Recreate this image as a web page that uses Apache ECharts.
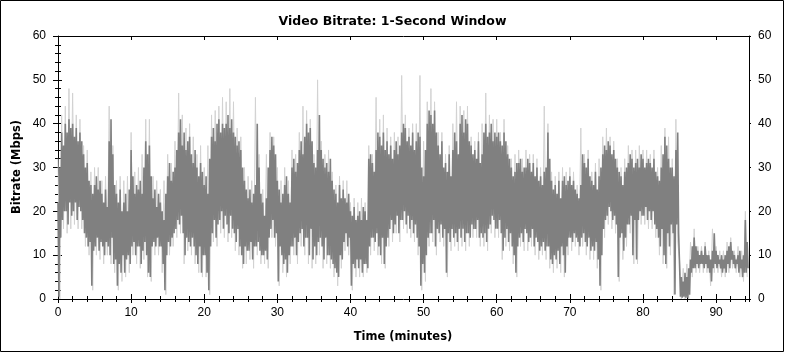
<!DOCTYPE html>
<html>
<head>
<meta charset="utf-8">
<script src="https://cdn.jsdelivr.net/npm/echarts@6/dist/echarts.min.js"></script>
<style>
html,body{margin:0;padding:0;background:#fff;}
#chart{width:785px;height:353px;}
</style>
</head>
<body>
<div id="chart"></div>
<script>
// Minutes covered by one envelope bin of each series
const darkBin = 0.25;
const lightBin = 0.5;

// Dark series: per-bin high / low (Mbps), 4 bins per minute
const darkHi = [
22,30,38,35, 40,38,41,39, 40,37,39,36, 38,36,33,30, 31,27,26,24,
26,28,25,27, 24,22,25,21, 36,41,33,26, 24,22,25,20, 22,24,20,25,
34,28,24,26, 25,27,24,30, 36,33,35,28, 23,25,21,24, 22,20,18,24,
28,31,27,29, 30,34,38,41, 35,38,34,36, 37,33,31,34, 30,28,31,29,
26,28,24,32, 37,39,36,40, 41,38,40,39, 40,42,39,41, 38,37,35,36,
34,30,27,25, 23,25,22,24, 26,40,30,24, 22,19,23,30, 34,37,35,33,
27,25,22,24, 26,28,24,22, 30,32,29,31, 34,36,33,37, 40,38,39,36,
31,30,34,42, 34,32,30,31, 29,32,27,25, 24,22,26,23, 25,23,22,24,
20,19,21,18, 19,20,18,21, 20,18,32,33, 31,29,34,38, 37,35,38,34,
36,33,35,32, 34,36,33,35, 38,40,39,36, 37,35,38,34, 36,38,37,30,
28,34,40,43, 42,40,43,38, 35,33,36,30, 31,29,33,28, 34,38,36,33,
40,42,38,41, 40,36,35,33, 34,32,36,31, 33,38,40,37, 38,40,36,38,
37,38,36,35, 38,36,33,32, 30,28,29,31, 31,32,29,30, 30,32,31,29,
31,28,30,27, 28,26,29,30, 38,32,27,25, 26,24,27,23, 27,28,26,27,
28,26,27,25, 24,23,26,33, 31,30,32,28, 27,26,29,25, 28,30,33,35,
34,36,35,33, 34,32,30,29, 28,26,29,30, 31,33,32,30, 31,32,30,33,
32,30,31,32, 31,30,32,29, 28,27,30,33, 37,35,32,30, 30,28,34,38,
8,5,4,6, 5,7,9,12, 14,12,11,10, 11,10,12,10, 10,9,11,15,
11,10,9,10, 9,10,11,12, 13,11,10,9, 10,11,9,10, 18,13
];
const darkLo = [
0.5,14,18,20, 20,17,22,19, 20,22,18,21, 20,18,15,14, 12,13,3,11,
12,14,11,13, 12,10,13,12, 10,14,8,9, 3,8,6,10, 6,9,10,8,
12,13,10,12, 12,8,11,13, 10,6,5,12, 13,12,14,12, 12,8,2,10,
13,12,14,15, 16,18,17,19, 15,10,14,13, 12,14,12,10, 8,12,6,10,
10,6,2,12, 15,18,14,17, 18,20,16,19, 17,15,19,16, 15,13,16,12,
10,8,12,11, 11,13,9,12, 12,13,11,10, 10,11,9,14, 16,18,14,15,
4,12,10,8, 9,6,10,12, 12,14,10,13, 15,16,12,14, 14,10,16,9,
12,10,13,14, 12,9,14,10, 10,9,8,7, 6,5,10,9, 13,15,12,14,
3,8,7,9, 7,9,6,8, 8,7,12,14, 14,13,15,12, 10,14,8,12,
14,16,18,15, 17,19,15,18, 18,20,17,19, 16,18,15,17, 14,12,3,8,
6,10,14,15, 15,18,12,16, 15,17,14,16, 6,15,13,16, 14,15,13,16,
14,16,13,15, 15,14,17,16, 16,18,14,15, 14,15,13,16, 17,19,18,16,
16,18,15,11, 14,16,13,15, 12,10,6,12, 14,15,13,16, 15,13,14,16,
12,14,13,11, 12,13,11,12, 12,9,8,10, 9,11,8,12, 10,6,12,14,
14,13,15,14, 13,12,14,15, 13,12,14,11, 12,11,13,9, 3,10,16,18,
19,21,20,18, 19,17,5,14, 15,11,14,17, 17,19,10,18, 9,18,20,19,
19,21,18,20, 18,20,17,16, 14,12,16,10, 8,15,12,17, 15,1,17,15,
0.5,0.3,0.5,0.3, 0.3,1,6,7, 7,8,7,8, 8,7,8,7, 6,4,7,8,
7,8,7,6, 7,6,8,7, 9,8,7,8, 6,7,5,6, 6,7
];

// Light (peak) series: per-bin high / low, 2 bins per minute
const lightHi = [
32,42, 44,48, 47,42, 41,35, 34,29, 30,30, 27,28, 44,35, 27,28, 27,28,
38,29, 30,33, 41,41, 28,27, 25,27, 33,31, 36,47, 42,39, 40,37, 33,35,
30,35, 42,43, 44,46, 45,48, 45,39, 37,30, 28,27, 46,33, 25,33, 38,37,
30,27, 30,27, 34,33, 38,44, 43,41, 33,50, 36,33, 34,29, 26,28, 27,27,
22,23, 22,23, 22,35, 33,46, 41,42, 39,37, 38,37, 51,42, 39,40, 40,51,
36,45, 48,45, 38,38, 33,35, 40,45, 44,43, 44,37, 36,38, 40,47, 42,41,
41,38, 41,35, 32,33, 34,32, 34,33, 33,32, 30,44, 40,29, 28,29, 30,29,
30,29, 26,39, 33,34, 29,31, 32,37, 39,37, 36,32, 30,32, 35,34, 34,35,
34,34, 33,34, 30,35, 39,37, 32,41, 9,7, 8,13, 16,12, 12,13, 11,16,
12,11, 11,13, 14,11, 12,11, 20
];
const lightLo = [
0,16, 15,16, 17,16, 16,12, 10,2, 10,9, 8,10, 8,6, 2,4, 5,6,
10,8, 7,9, 5,4, 10,10, 6,1, 10,12, 14,15, 8,11, 10,8, 6,5,
5,1, 13,12, 15,14, 13,14, 11,10, 7,8, 9,7, 10,8, 8,7, 14,12,
3,6, 5,8, 10,8, 12,10, 8,7, 8,10, 7,8, 7,5, 3,7, 11,10,
2,5, 5,5, 6,10, 11,10, 8,7, 12,13, 15,13, 16,15, 14,13, 10,2,
4,12, 13,10, 13,12, 5,11, 12,11, 12,11, 12,14, 14,12, 12,11, 15,14,
14,9, 12,11, 8,5, 12,11, 11,12, 10,9, 10,9, 7,6, 7,6, 5,10,
11,12, 10,12, 10,9, 9,7, 2,14, 17,16, 15,4, 9,12, 15,8, 8,17,
17,16, 16,14, 10,8, 7,10, 1,13, 0,0, 0,5, 6,6, 6,6, 3,6,
6,5, 5,6, 7,6, 5,4, 5
];

// Axis settings
const xMin = 0, xMax = 94.5, xMajor = 10, xMinor = 2;
const yMin = 0, yMax = 60, yMajor = 10, yMinor = 2;

function zigzag(hi, lo, bin) {
  const out = [];
  for (let i = 0; i < hi.length; i++) {
    out.push([i * bin, hi[i]]);
    out.push([i * bin + bin / 2, lo[i]]);
  }
  return out;
}
const darkData = zigzag(darkHi, darkLo, darkBin);
const lightData = zigzag(lightHi, lightLo, lightBin);

const labelFont = {fontFamily: 'Liberation Sans', fontSize: 12, color: '#000'};
const black = {color: '#000', width: 1};

function xAx(o) {
  return Object.assign({
    type: 'value', min: xMin, max: xMax, interval: xMajor, gridIndex: 0,
    splitLine: {show: false},
    axisLine: {show: false},
    axisLabel: {show: false},
    axisTick: {show: false}
  }, o);
}
function yAx(o) {
  return Object.assign({
    type: 'value', min: yMin, max: yMax, interval: yMajor, gridIndex: 0,
    splitLine: {show: false},
    axisLine: {show: false},
    axisLabel: {show: false},
    axisTick: {show: false}
  }, o);
}
function tick(inside, length) {
  return {show: true, inside: inside, length: length, lineStyle: black};
}

const chart = echarts.init(document.getElementById('chart'), null, {renderer: 'canvas'});
chart.setOption({
  animation: false,
  backgroundColor: '#ffffff',
  title: {
    text: 'Video Bitrate: 1-Second Window',
    left: 'center', top: 10,
    textStyle: {fontFamily: 'DejaVu Sans', fontWeight: 'bold', fontSize: 12.5, color: '#000'}
  },
  grid: {left: 58, right: 36, top: 36, bottom: 54, containLabel: false, outerBoundsMode: 'none'},
  xAxis: [
    xAx({position: 'bottom', axisLine: {show: true, onZero: false, lineStyle: black},
         axisTick: tick(false, 4),
         axisLabel: Object.assign({show: true, margin: 8, showMaxLabel: false}, labelFont)}),
    xAx({position: 'bottom', axisTick: tick(true, 5)}),
    xAx({position: 'bottom', interval: xMinor, axisTick: tick(true, 3)}),
    xAx({position: 'top', axisLine: {show: true, onZero: false, lineStyle: black}, axisTick: tick(true, 4)}),
    xAx({position: 'top', interval: xMinor, axisTick: tick(true, 3)})
  ],
  yAxis: [
    yAx({position: 'left', axisLine: {show: true, onZero: false, lineStyle: black},
         axisTick: tick(false, 5),
         axisLabel: Object.assign({show: true, margin: 12}, labelFont)}),
    yAx({position: 'left', axisTick: tick(true, 4)}),
    yAx({position: 'left', interval: yMinor, axisTick: tick(true, 3)}),
    yAx({position: 'right', axisLine: {show: true, onZero: false, lineStyle: black},
         axisTick: tick(false, 2),
         axisLabel: Object.assign({show: true, margin: 9}, labelFont)}),
    yAx({position: 'right', axisTick: tick(true, 5)}),
    yAx({position: 'right', interval: yMinor, axisTick: tick(true, 3)})
  ],
  series: [
    {type: 'line', name: 'peak', data: lightData, xAxisIndex: 0, yAxisIndex: 0,
     symbol: 'none', silent: true, z: 1, lineStyle: {color: '#d2d2d2', width: 1}},
    {type: 'line', name: 'bitrate', data: darkData, xAxisIndex: 0, yAxisIndex: 0,
     symbol: 'none', silent: true, z: 2, lineStyle: {color: '#808080', width: 1.6}}
  ],
  graphic: [
    {type: 'rect', shape: {x: 0.5, y: 0.5, width: 783, height: 351},
     style: {fill: 'none', stroke: '#000', lineWidth: 1}, silent: true},
    {type: 'text', x: 17, y: 167, rotation: Math.PI / 2,
     style: {text: 'Bitrate (Mbps)', font: 'bold 11.5px "DejaVu Sans"', fill: '#000', align: 'center', verticalAlign: 'middle'}},
    {type: 'text', x: 403, y: 337,
     style: {text: 'Time (minutes)', font: 'bold 11.5px "DejaVu Sans"', fill: '#000', align: 'center', verticalAlign: 'middle'}}
  ]
});
</script>
</body>
</html>
